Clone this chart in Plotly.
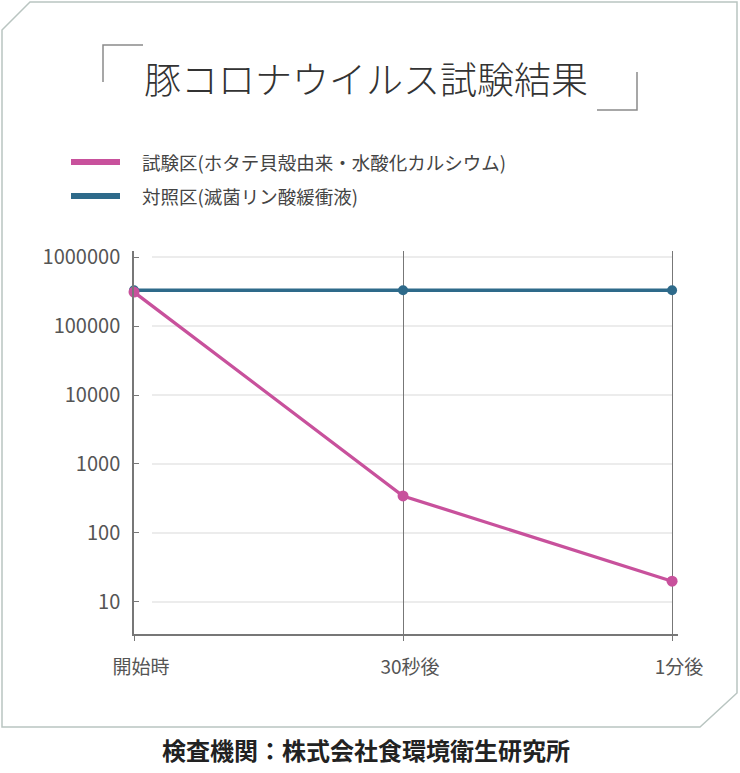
import plotly.graph_objects as go

# データ
categories = ['開始時', '30秒後', '1分後']
test_values = [310000, 344, 20]        # 試験区
control_values = [330000, 330000, 330000]  # 対照区
series_names = ['試験区(ホタテ貝殻由来・水酸化カルシウム)', '対照区(滅菌リン酸緩衝液)']
series_colors = ['#c8519c', '#2e6a8a']
y_ticks = [10, 100, 1000, 10000, 100000, 1000000]
y_ticktext = [str(v) for v in y_ticks]

title_text = '豚コロナウイルス試験結果'
footer_text = '検査機関：株式会社食環境衛生研究所'

W, H = 740, 773
L, R, T, B = 134, 62, 251, 139
PW, PH = W - L - R, H - T - B
FONT = 'Noto Sans CJK JP'


def px(x):
    return (x - L) / PW


def py(y):
    return (H - B - y) / PH


fig = go.Figure()

# 対照区を先に描いて、開始時は試験区の点が上に来るようにする
fig.add_trace(go.Scatter(
    x=categories, y=control_values, mode='lines+markers',
    line=dict(color=series_colors[1], width=3.5),
    marker=dict(size=10, color=series_colors[1]),
    name=series_names[1], showlegend=False, cliponaxis=False
))
fig.add_trace(go.Scatter(
    x=categories, y=test_values, mode='lines+markers',
    line=dict(color=series_colors[0], width=3.3),
    marker=dict(size=11, color=series_colors[0]),
    name=series_names[0], showlegend=False, cliponaxis=False
))

shapes = []
# 横の補助線（軸から少し離して描く）
for v in y_ticks:
    shapes.append(dict(type='line', xref='paper', yref='y',
                       x0=px(152), x1=px(672), y0=v, y1=v,
                       line=dict(color='#e6e6e6', width=1.5), layer='below'))

# 外枠（左上・右下の角を斜めにカット）
frame = [(2, 30), (30, 2), (737, 2), (737, 693), (700, 727), (2, 727)]
path = 'M ' + ' L '.join(f'{px(x)},{py(y)}' for x, y in frame) + ' Z'
shapes.append(dict(type='path', xref='paper', yref='paper', path=path,
                   line=dict(color='#b9c5c1', width=1.5), layer='below'))

# タイトルのかぎ括弧
for pts in [[(143, 45), (103, 45), (103, 82)], [(637, 72), (637, 110), (597, 110)]]:
    p = 'M ' + ' L '.join(f'{px(x)},{py(y)}' for x, y in pts)
    shapes.append(dict(type='path', xref='paper', yref='paper', path=p,
                       line=dict(color='#8a8a8a', width=1.5)))

# 凡例
annotations = []
for i, (name, color) in enumerate(zip(series_names, series_colors)):
    yy = 162 + i * 34
    shapes.append(dict(type='line', xref='paper', yref='paper',
                       x0=px(71), x1=px(120), y0=py(yy), y1=py(yy),
                       line=dict(color=color, width=6)))
    annotations.append(dict(text=name, xref='paper', yref='paper',
                            x=px(140), y=py(yy), xanchor='left', yanchor='middle',
                            showarrow=False, font=dict(family=FONT, size=18.5, color='#444')))

annotations.append(dict(text=title_text, xref='paper', yref='paper',
                        x=px(366), y=py(78), xanchor='center', yanchor='middle',
                        showarrow=False, font=dict(family=FONT, size=37, color='#333', weight=300)))
annotations.append(dict(text=footer_text, xref='paper', yref='paper',
                        x=px(366), y=py(749), xanchor='center', yanchor='middle',
                        showarrow=False, font=dict(family=FONT, size=24, color='#222', weight='bold')))

fig.update_layout(
    width=W, height=H,
    margin=dict(l=L, r=R, t=T, b=B),
    paper_bgcolor='white', plot_bgcolor='white',
    showlegend=False,
    shapes=shapes, annotations=annotations,
    font=dict(family=FONT, color='#555'),
)

fig.update_xaxes(
    type='category', range=[0, 2.022],
    showgrid=True, gridcolor='#777', gridwidth=1,
    showline=True, linecolor='#777', linewidth=1.5,
    ticks='outside', ticklen=5, tickcolor='#777',
    tickfont=dict(family=FONT, size=19, color='#555'),
    ticklabelshift=7, ticklabelstandoff=10,
    zeroline=False,
)
fig.update_yaxes(
    type='log', range=[0.536, 6.087],
    tickvals=y_ticks, ticktext=y_ticktext,
    showgrid=False,
    showline=True, linecolor='#777', linewidth=1.5,
    ticks='inside', ticklen=5, tickcolor='#777',
    tickfont=dict(family=FONT, size=20, color='#555'),
    ticklabelstandoff=8,
    zeroline=False,
)

# ページ余白を消して 740x773 の枠にぴったり収める
fig.write_html('out.html', config={'displayModeBar': False},
               post_script="document.body.style.margin='0';")
